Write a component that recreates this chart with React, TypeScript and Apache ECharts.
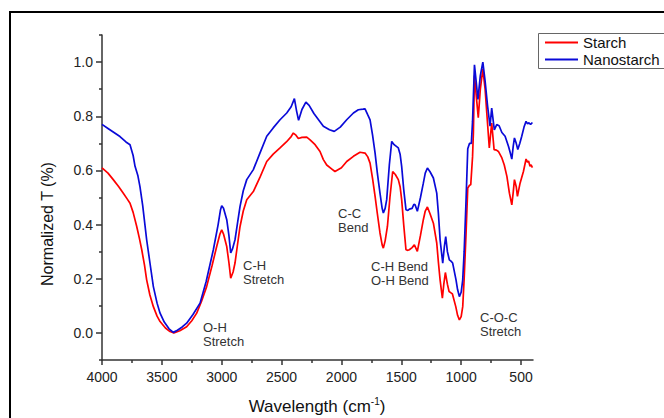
import React, { useEffect, useRef } from "react";
import * as echarts from "echarts";

// ---- Data (wavenumber cm-1, normalized transmittance) ----
const starchWave = [
  4000, 3950, 3906, 3860, 3822, 3790, 3766, 3740, 3710, 3688, 3668, 3645, 3627, 3600, 3571, 3540, 3515, 3470, 3432, 3400,
  3350, 3293, 3250, 3209, 3170, 3126, 3080, 3042, 3015, 3000, 2985, 2958, 2940, 2925, 2905, 2889, 2870, 2847, 2820, 2791,
  2736, 2680, 2624, 2570, 2513, 2460, 2420, 2402, 2380, 2360, 2330, 2290, 2262, 2220, 2179, 2151, 2123, 2080, 2054, 2000,
  1956, 1900, 1845, 1803, 1780, 1761, 1740, 1719, 1700, 1678, 1660, 1650, 1635, 1616, 1595, 1572, 1550, 1525, 1510, 1497,
  1480, 1461, 1445, 1433, 1410, 1391, 1366, 1340, 1316, 1300, 1282, 1260, 1232, 1204, 1190, 1176, 1157, 1145, 1132, 1115,
  1101, 1085, 1073, 1045, 1030, 1015, 1000, 987, 975, 959, 945, 930, 920, 905, 898, 889, 875, 857, 840, 819,
  800, 786, 765, 745, 725, 705, 689, 660, 640, 618, 597, 577, 565, 555, 540, 530, 508, 480, 458, 445,
  437, 425, 416, 405,
];
const starchT = [
  0.609, 0.59, 0.566, 0.54, 0.516, 0.495, 0.479, 0.445, 0.393, 0.35, 0.307, 0.25, 0.196, 0.14, 0.097, 0.062, 0.042, 0.018, 0.005, 0.0,
  0.008, 0.023, 0.045, 0.073, 0.115, 0.171, 0.25, 0.319, 0.365, 0.381, 0.365, 0.319, 0.26, 0.202, 0.225, 0.258, 0.32, 0.393, 0.45, 0.492,
  0.522, 0.575, 0.633, 0.66, 0.683, 0.705, 0.725, 0.738, 0.73, 0.718, 0.722, 0.723, 0.713, 0.695, 0.67, 0.64, 0.62, 0.605, 0.596, 0.61,
  0.633, 0.652, 0.667, 0.664, 0.65, 0.627, 0.57, 0.504, 0.44, 0.369, 0.325, 0.313, 0.34, 0.393, 0.5, 0.596, 0.585, 0.566, 0.54, 0.492,
  0.4, 0.307, 0.305, 0.307, 0.315, 0.325, 0.301, 0.36, 0.418, 0.45, 0.465, 0.44, 0.405, 0.332, 0.26, 0.196, 0.128, 0.18, 0.223, 0.18,
  0.153, 0.148, 0.144, 0.097, 0.065, 0.048, 0.06, 0.097, 0.2, 0.369, 0.535, 0.545, 0.547, 0.65, 0.738, 0.95, 0.88, 0.795, 0.9, 0.975,
  0.9, 0.812, 0.683, 0.775, 0.677, 0.675, 0.67, 0.646, 0.62, 0.578, 0.516, 0.473, 0.52, 0.566, 0.54, 0.504, 0.553, 0.596, 0.642, 0.63,
  0.635, 0.615, 0.621, 0.61,
];

const nanoWave = [
  4000, 3950, 3900, 3850, 3800, 3766, 3740, 3724, 3700, 3683, 3660, 3627, 3600, 3571, 3540, 3515, 3480, 3440, 3404, 3370,
  3330, 3293, 3240, 3181, 3130, 3070, 3030, 3010, 3000, 2985, 2958, 2940, 2925, 2910, 2889, 2870, 2847, 2820, 2791, 2736,
  2680, 2624, 2570, 2513, 2457, 2420, 2393, 2375, 2358, 2330, 2297, 2270, 2230, 2179, 2151, 2100, 2060, 2010, 1956, 1900,
  1859, 1820, 1803, 1780, 1761, 1740, 1719, 1700, 1678, 1660, 1650, 1635, 1622, 1600, 1580, 1560, 1525, 1510, 1497, 1480,
  1461, 1445, 1433, 1410, 1395, 1385, 1366, 1340, 1316, 1300, 1282, 1260, 1232, 1204, 1190, 1176, 1154, 1140, 1129, 1115,
  1099, 1085, 1071, 1043, 1030, 1015, 1000, 987, 975, 959, 945, 930, 915, 905, 889, 875, 860, 840, 819, 800,
  780, 759, 745, 723, 703, 683, 660, 633, 605, 590, 577, 565, 555, 540, 527, 510, 494, 475, 458, 445,
  437, 420, 405,
];
const nanoT = [
  0.77, 0.755, 0.74, 0.725, 0.705, 0.695, 0.655, 0.615, 0.58, 0.54, 0.47, 0.344, 0.26, 0.171, 0.11, 0.073, 0.04, 0.015, 0.002, 0.01,
  0.022, 0.036, 0.068, 0.11, 0.19, 0.307, 0.4, 0.455, 0.47, 0.46, 0.418, 0.36, 0.295, 0.31, 0.344, 0.4, 0.467, 0.525, 0.566, 0.603,
  0.665, 0.726, 0.757, 0.787, 0.812, 0.835, 0.865, 0.82, 0.785, 0.825, 0.852, 0.84, 0.81, 0.78, 0.763, 0.75, 0.744, 0.76, 0.787, 0.812,
  0.824, 0.826, 0.827, 0.805, 0.787, 0.73, 0.664, 0.59, 0.516, 0.46, 0.443, 0.46, 0.492, 0.62, 0.707, 0.695, 0.683, 0.66, 0.615, 0.53,
  0.455, 0.452, 0.457, 0.46, 0.475, 0.473, 0.449, 0.5, 0.553, 0.59, 0.609, 0.595, 0.572, 0.516, 0.44, 0.344, 0.258, 0.32, 0.356, 0.3,
  0.27, 0.265, 0.258, 0.196, 0.16, 0.134, 0.15, 0.196, 0.3, 0.492, 0.68, 0.7, 0.7, 0.78, 0.99, 0.93, 0.862, 0.95, 1.0, 0.93,
  0.84, 0.763, 0.83, 0.75, 0.769, 0.765, 0.74, 0.726, 0.689, 0.665, 0.642, 0.69, 0.72, 0.7, 0.677, 0.7, 0.726, 0.76, 0.781, 0.772,
  0.776, 0.77, 0.777,
];

const xMajorTicks = [500, 1000, 1500, 2000, 2500, 3000, 3500, 4000];
const xMinorTicks = [750, 1250, 1750, 2250, 2750, 3250, 3750];
const yMajorTicks = [0, 0.2, 0.4, 0.6, 0.8, 1.0];
const yMinorTicks = [-0.1, 0.1, 0.3, 0.5, 0.7, 0.9, 1.1];

const annotations = [
  { text: "O-H\nStretch", x: 203, y: 320 },
  { text: "C-H\nStretch", x: 243, y: 258 },
  { text: "C-C\nBend", x: 338, y: 206 },
  { text: "C-H Bend\nO-H Bend", x: 371, y: 259 },
  { text: "C-O-C\nStretch", x: 480, y: 310 },
];

const FONT = "'Liberation Sans', Arial, Helvetica, sans-serif";
const RED = "#ff0000";
const BLUE = "#0a0ad8";

export default function App() {
  const ref = useRef<HTMLDivElement>(null);

  useEffect(() => {
    if (!ref.current) return;
    const chart = echarts.init(ref.current, null, { renderer: "svg" });
    const starchData = starchWave.map((w, i) => [w, starchT[i]]);
    const nanoData = nanoWave.map((w, i) => [w, nanoT[i]]);
    const axisColor = "#333";

    chart.setOption({
      animation: false,
      backgroundColor: "#fff",
      textStyle: { fontFamily: FONT },
      grid: { left: 102, right: 131, top: 35, bottom: 58, containLabel: false },
      legend: {
        orient: "vertical",
        left: 545,
        top: 34,
        padding: 0,
        itemGap: 0,
        itemWidth: 33,
        itemHeight: 2,
        icon: "rect",
        textStyle: { fontSize: 15, lineHeight: 17, color: "#111", fontFamily: FONT },
        data: ["Starch", "Nanostarch"],
      },
      xAxis: [
        {
          type: "value",
          min: 400,
          max: 4000,
          inverse: true,
          position: "bottom",
          splitLine: { show: false },
          axisLine: { show: true, onZero: false, lineStyle: { color: axisColor, width: 1.5 } },
          axisTick: { show: true, customValues: xMinorTicks, length: 3, lineStyle: { color: axisColor, width: 1.5 } },
          axisLabel: { show: false },
        },
        {
          type: "value",
          min: 400,
          max: 4000,
          inverse: true,
          position: "bottom",
          splitLine: { show: false },
          axisLine: { show: false, onZero: false },
          axisTick: { show: true, customValues: xMajorTicks, length: 5, lineStyle: { color: axisColor, width: 1.5 } },
          axisLabel: {
            show: true,
            customValues: xMajorTicks,
            fontSize: 14,
            color: "#222",
            margin: 10,
            fontFamily: FONT,
            formatter: (v: number) => String(v),
          },
        },
      ],
      yAxis: [
        {
          type: "value",
          min: -0.1,
          max: 1.1,
          position: "left",
          splitLine: { show: false },
          axisLine: { show: true, onZero: false, lineStyle: { color: axisColor, width: 1.5 } },
          axisTick: { show: true, customValues: yMinorTicks, length: 3, lineStyle: { color: axisColor, width: 1.5 } },
          axisLabel: { show: false },
        },
        {
          type: "value",
          min: -0.1,
          max: 1.1,
          position: "left",
          splitLine: { show: false },
          axisLine: { show: false, onZero: false },
          axisTick: { show: true, customValues: yMajorTicks, length: 6, lineStyle: { color: axisColor, width: 1.5 } },
          axisLabel: {
            show: true,
            customValues: yMajorTicks,
            fontSize: 14,
            color: "#222",
            margin: 9,
            fontFamily: FONT,
            formatter: (v: number) => v.toFixed(1),
          },
        },
      ],
      series: [
        {
          name: "Starch",
          type: "line",
          xAxisIndex: 0,
          yAxisIndex: 0,
          data: starchData,
          showSymbol: false,
          color: RED,
          lineStyle: { color: RED, width: 1.7 },
          z: 3,
        },
        {
          name: "Nanostarch",
          type: "line",
          xAxisIndex: 0,
          yAxisIndex: 0,
          data: nanoData,
          showSymbol: false,
          color: BLUE,
          lineStyle: { color: BLUE, width: 1.7 },
          z: 4,
        },
      ],
      graphic: [
        {
          type: "rect",
          shape: { x: 10, y: 12, width: 700, height: 460 },
          style: { fill: "none", stroke: "#000", lineWidth: 2 },
          silent: true,
        },
        {
          type: "rect",
          shape: { x: 538.5, y: 33.5, width: 130, height: 35 },
          style: { fill: "none", stroke: "#666", lineWidth: 1 },
          silent: true,
        },
        {
          type: "text",
          x: 47,
          y: 224,
          rotation: Math.PI / 2,
          style: {
            text: "Normalized T (%)",
            fontSize: 16,
            fontFamily: FONT,
            fill: "#111",
            align: "center",
            verticalAlign: "middle",
          },
        },
        {
          type: "text",
          x: 317,
          y: 406,
          style: {
            text: "{a|Wavelength (cm}{s|-1}{a|)}",
            fontFamily: FONT,
            fill: "#111",
            align: "center",
            verticalAlign: "middle",
            rich: {
              a: { fontSize: 17, lineHeight: 20, fontFamily: FONT, fill: "#111" },
              s: { fontSize: 10, lineHeight: 10, verticalAlign: "top", fontFamily: FONT, fill: "#111" },
            },
          },
        },
        ...annotations.map((a) => ({
          type: "text",
          x: a.x,
          y: a.y,
          style: {
            text: a.text,
            fontSize: 13,
            lineHeight: 14,
            fontFamily: FONT,
            fill: "#333",
            align: "left",
            verticalAlign: "top",
          },
        })),
      ],
    });

    return () => chart.dispose();
  }, []);

  return (
    <div
      ref={ref}
      style={{ position: "fixed", left: 0, top: 0, width: 664, height: 418, background: "#fff" }}
    />
  );
}
